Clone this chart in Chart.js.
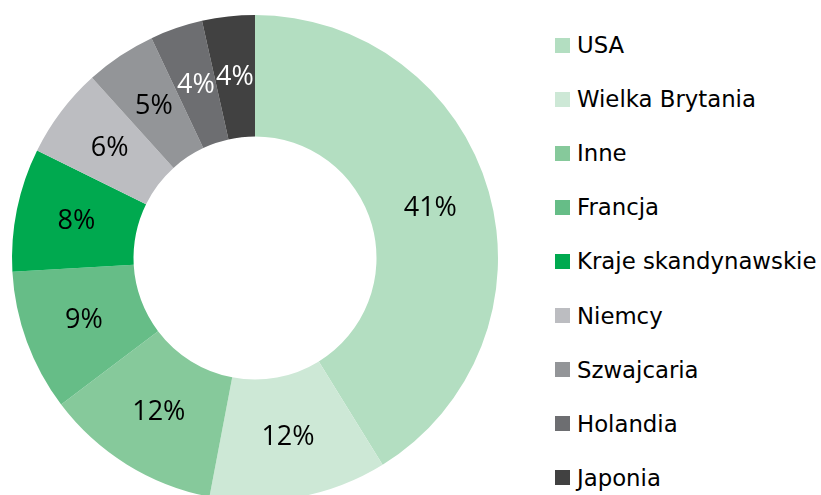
<!DOCTYPE html>
<html>
<head>
<meta charset="utf-8">
<script src="https://cdn.jsdelivr.net/npm/chart.js@4"></script>
<style>
    html, body { margin: 0; padding: 0; background: #fff; overflow: hidden; }
    body { width: 821px; height: 495px; position: relative; }
    .chart-box { position: absolute; left: 0; top: 0; width: 510px; height: 510px; }
    .chart-legend { position: absolute; left: 555px; top: 18px; font-family: "DejaVu Sans", sans-serif; font-size: 22.8px; color: #000; }
    .chart-legend-item { display: flex; align-items: center; height: 54.1px; white-space: nowrap; }
    .legend-color { width: 15px; height: 15px; margin-right: 7px; flex: none; }
</style>
</head>
<body>
<div class="chart-box"><canvas id="sectorChart"></canvas></div>
<div class="chart-legend"></div>
<script>
const countries = ['USA', 'Wielka Brytania', 'Inne', 'Francja', 'Kraje skandynawskie', 'Niemcy', 'Szwajcaria', 'Holandia', 'Japonia'];
const shares = [41.2, 11.8, 11.7, 9.4, 8.2, 6.0, 4.7, 3.5, 3.5];
const colors = ['#b3dec1', '#cde8d6', '#86c99b', '#66bd87', '#00a94f', '#bcbdc1', '#939598', '#6d6e71', '#414141'];
const labelColors = ['#000', '#000', '#000', '#000', '#000', '#000', '#000', '#fff', '#fff'];

// draws the percent text in the middle of every slice
const sliceLabels = {
    id: 'sliceLabels',
    afterDatasetsDraw(chart) {
        const ctx = chart.ctx;
        const meta = chart.getDatasetMeta(0);
        ctx.save();
        ctx.font = '27px "Open Sans", sans-serif';
        ctx.textAlign = 'center';
        ctx.textBaseline = 'middle';
        meta.data.forEach((arc, i) => {
            const pos = arc.tooltipPosition();
            ctx.fillStyle = labelColors[i];
            ctx.fillText(Math.round(shares[i]) + '%', pos.x, pos.y);
        });
        ctx.restore();
    }
};

window.onload = function () {
    const ctx = document.getElementById('sectorChart').getContext('2d');
    const chart = new Chart(ctx, {
        type: 'doughnut',
        data: {
            labels: countries,
            datasets: [{
                data: shares,
                backgroundColor: colors,
                borderWidth: 0
            }]
        },
        options: {
            responsive: true,
            maintainAspectRatio: false,
            animation: false,
            cutout: '50%',
            layout: { padding: { left: 12, top: 15, right: 12, bottom: 9 } },
            plugins: {
                legend: { display: false },
                tooltip: { enabled: false }
            }
        },
        plugins: [sliceLabels]
    });

    // legend on the right
    const legendContainer = document.querySelector('.chart-legend');
    chart.data.labels.forEach((label, index) => {
        const legendItem = document.createElement('div');
        legendItem.classList.add('chart-legend-item');

        const colorBox = document.createElement('div');
        colorBox.classList.add('legend-color');
        colorBox.style.backgroundColor = colors[index];

        const labelText = document.createElement('span');
        labelText.textContent = label;

        legendItem.appendChild(colorBox);
        legendItem.appendChild(labelText);
        legendContainer.appendChild(legendItem);
    });
};
</script>
</body>
</html>
